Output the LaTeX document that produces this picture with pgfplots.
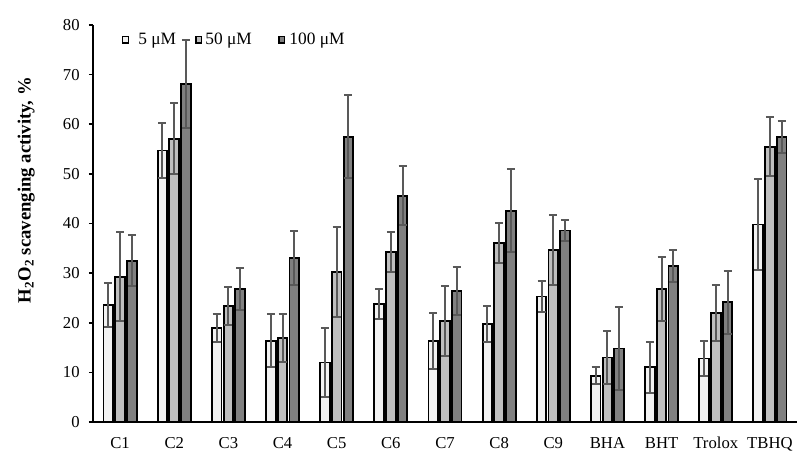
\documentclass[border=0pt]{standalone}
\usepackage{pgfplots}
\pgfplotsset{compat=1.18}
\usepackage{pgfplotstable}
\usepackage{fontspec}
\setmainfont{Liberation Serif}
\definecolor{cA}{HTML}{F2F2F2}
\definecolor{cB}{HTML}{BFBFBF}
\definecolor{cC}{HTML}{808080}
\definecolor{cE}{HTML}{595959}
\pgfplotstableread{
x a ea b eb c ec
0 23.6 4.4 29.3 9.0 32.5 5.1
1 54.7 5.6 57.1 7.1 68.1 8.8
2 19.0 2.8 23.4 3.9 26.8 4.2
3 16.4 5.4 16.9 4.9 33.1 5.4
4 12.0 7.0 30.2 9.1 57.5 8.4
5 23.8 3.0 34.3 4.0 45.6 5.9
6 16.3 5.7 20.4 7.1 26.4 4.9
7 19.8 3.6 36.1 4.0 42.6 8.4
8 25.3 3.2 34.7 7.0 38.6 2.1
9 9.3 1.7 13.0 5.4 14.8 8.4
10 11.0 5.1 26.8 6.5 31.5 3.2
11 12.8 3.6 22.0 5.7 24.1 6.4
12 39.8 9.2 55.5 5.9 57.5 3.2
}\datatable
\begin{document}
\begin{tikzpicture}
\begin{axis}[
  scale only axis,
  width=528pt, height=297.75pt,
  xmin=-0.5, xmax=12.5,
  ymin=0, ymax=80,
  ytick={0,10,...,80},
  xtick=data,
  xticklabels={C1,C2,C3,C4,C5,C6,C7,C8,C9,BHA,BHT,Trolox,TBHQ},
  axis x line*=bottom,
  axis y line*=left,
  axis line style={line width=1.5pt, black},
  x axis line style={shorten <=-3pt},
  tick align=outside,
  major tick length=3pt,
  ytick style={line width=1.2pt, black},
  xtick style={draw=none},
  tick label style={font=\fontsize{12.5}{14}\selectfont, text=black},
  xticklabel style={yshift=-5pt},
  yticklabel style={xshift=-3.5pt},
  /pgf/number format/assume math mode=true,
  ylabel={\textbf{H\textsubscript{2}O\textsubscript{2} scavenging activity, \%}},
  ylabel style={font=\fontsize{14}{16}\selectfont, at={([xshift=-50pt]rel axis cs:0,0.584)}, anchor=center},
  ybar,
  bar width=7.2pt,
  legend style={at={(rel axis cs:0,1)}, anchor=north west, xshift=21.75pt, yshift=-6pt,
    draw=none, fill=none, inner sep=0pt,
    font=\fontsize{13}{15}\selectfont,
    legend columns=3,
    /tikz/every even column/.append style={column sep=0pt},
    /tikz/every odd column/.append style={column sep=0pt},
    nodes={inner sep=0pt, anchor=west}},
  legend image code/.code={\draw[#1, draw=black, line width=0.9pt] (0.45pt,-2.2pt) rectangle (4.85pt,2.4pt);},
  error bars/y dir=both,
  error bars/y explicit,
  error bars/error bar style={color=cE, line width=1.5pt},
  error bars/error mark options={rotate=90, mark size=3pt, line width=1.5pt, color=cE},
]
\addplot[fill=cA, draw=black, line width=1.4pt, bar shift=-8.8pt] table[x=x, y=a, y error=ea] {\datatable};
\addplot[fill=cB, draw=black, line width=1.4pt, bar shift=0pt] table[x=x, y=b, y error=eb] {\datatable};
\addplot[fill=cC, draw=black, line width=1.4pt, bar shift=8.8pt] table[x=x, y=c, y error=ec] {\datatable};
\legend{\makebox[49.5pt][l]{\hspace{6.75pt}5 μM}, \makebox[57pt][l]{\hspace{2.25pt}50 μM}, \makebox[55pt][l]{\hspace{3pt}100 μM}}
\coordinate (ll) at (rel axis cs:0,0);
\coordinate (ur) at (rel axis cs:1,1);
\end{axis}
\pgfresetboundingbox
\path ([xshift=-69.75pt, yshift=-37.5pt]ll) rectangle ([xshift=9.75pt, yshift=18.75pt]ur);
\end{tikzpicture}
\end{document}
